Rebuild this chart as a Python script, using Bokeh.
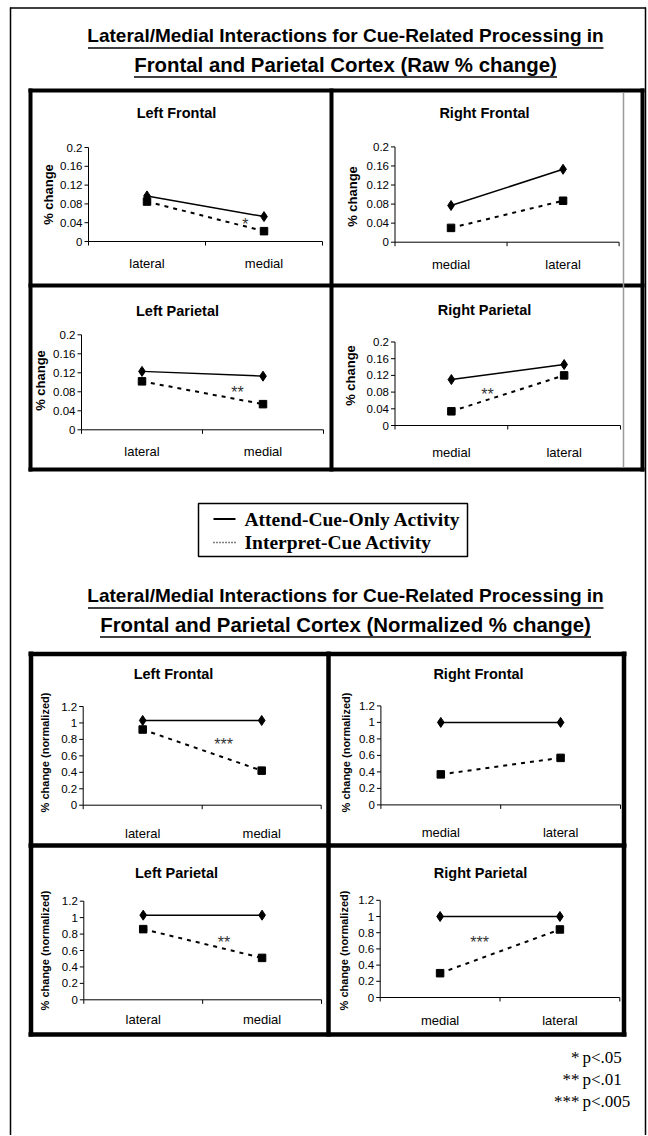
import numpy as np
from bokeh.plotting import figure
from bokeh.models import Range1d
from bokeh.core.properties import value
from bokeh.embed import file_html
from bokeh.resources import INLINE

# ---------------- data ----------------
titles_raw = ["Lateral/Medial Interactions for Cue-Related Processing in",
              "Frontal and Parietal Cortex (Raw % change)"]
titles_norm = ["Lateral/Medial Interactions for Cue-Related Processing in",
               "Frontal and Parietal Cortex (Normalized % change)"]
regions = ["Left Frontal", "Right Frontal", "Left Parietal", "Right Parietal"]
cats_left = ["lateral", "medial"]
cats_right = ["medial", "lateral"]
series_names = ["Attend-Cue-Only Activity", "Interpret-Cue Activity"]

raw_attend_LF = [0.097, 0.053]
raw_interp_LF = [0.085, 0.022]
raw_attend_RF = [0.077, 0.153]
raw_interp_RF = [0.030, 0.087]
raw_attend_LP = [0.123, 0.113]
raw_interp_LP = [0.102, 0.054]
raw_attend_RP = [0.110, 0.146]
raw_interp_RP = [0.034, 0.120]

norm_attend_LF = [1.03, 1.03]
norm_interp_LF = [0.92, 0.42]
norm_attend_RF = [1.00, 1.00]
norm_interp_RF = [0.37, 0.57]
norm_attend_LP = [1.03, 1.03]
norm_interp_LP = [0.86, 0.51]
norm_attend_RP = [1.00, 1.00]
norm_interp_RP = [0.30, 0.84]

raw_ticks = [0, 0.04, 0.08, 0.12, 0.16, 0.2]
raw_tick_labels = ["0", "0.04", "0.08", "0.12", "0.16", "0.2"]
norm_ticks = [0, 0.2, 0.4, 0.6, 0.8, 1.0, 1.2]
norm_tick_labels = ["0", "0.2", "0.4", "0.6", "0.8", "1", "1.2"]

raw_ylabel = "% change"
norm_ylabel = "% change (normalized)"

# significance marks (text, x in category units, y in data units)
sig_raw_LF = ("*", 1.34, 0.045)
sig_raw_LP = ("**", 1.29, 0.087)
sig_raw_RP = ("**", 0.82, 0.084)
sig_norm_LF = ("***", 1.18, 0.79)
sig_norm_LP = ("**", 1.18, 0.75)
sig_norm_RP = ("***", 0.83, 0.73)

pvalue_stars = ["*", "**", "***"]
pvalue_texts = ["p<.05", "p<.01", "p<.005"]

# ---------------- canvas ----------------
W, H = 647, 1135
p = figure(width=W, height=H, x_range=Range1d(start=0, end=W), y_range=Range1d(start=0, end=H),
           output_backend="svg", toolbar_location=None, min_border=0,
           x_axis_location=None, y_axis_location=None)
p.grid.visible = False
p.outline_line_color = None
p.background_fill_color = "white"
p.border_fill_color = "white"


def px(x):
    return x


def py(y):
    return H - y


SANS = value("Liberation Sans")
SERIF = value("Liberation Serif")


def hline(x0, x1, y, w, color="black"):
    p.segment(x0=[px(x0)], y0=[py(y)], x1=[px(x1)], y1=[py(y)], line_color=color, line_width=w)


def vline(x, y0, y1, w, color="black"):
    p.segment(x0=[px(x)], y0=[py(y0)], x1=[px(x)], y1=[py(y1)], line_color=color, line_width=w)


# outer border (bottom edge lies below the window)
hline(9.5, 645.5, 7.5, 1.5)
vline(10, 7, 1140, 1.5)
vline(645, 7, 1140, 1.5)

# titles with underlines
def title_block(lines, ys, sizes, spans):
    for t, y, s, (a, b) in zip(lines, ys, sizes, spans):
        p.text(x=[px(345)], y=[py(y)], text=[t], text_align="center", text_baseline="middle",
               text_font=SANS, text_font_style="bold", text_font_size=s, text_color="black")
        hline(a, b, y + 12.5, 1.6)

title_block(titles_raw, [35, 64], ["19px", "20.4px"], [(87.5, 603), (133.5, 556.5)])
title_block(titles_norm, [595, 624], ["19px", "20.4px"], [(87.5, 603), (99.5, 590.5)])

# top grid frame
for y in (90, 285, 469):
    hline(28, 644, y, 4)
for x in (30, 331, 642):
    vline(x, 88, 471, 4)
vline(623, 92, 467, 1.5, "#9a9a9a")

# bottom grid frame
for y in (653.5, 845, 1034):
    hline(28, 626, y, 4.5)
for x in (30.5, 328, 623.5):
    vline(x, 651, 1036, 4.5)


def panel(frame, ymax, ticks, tick_labels, cats, attend, interp, sig, title, title_xy,
          ylabel, ylabel_xy, ylabel_size, cat_off):
    x0, x1, ytop, ybot = frame
    n = len(cats)
    sub = p.subplot(x_source=Range1d(start=0, end=n), y_source=Range1d(start=0, end=ymax),
                    x_target=Range1d(start=px(x0), end=px(x1)),
                    y_target=Range1d(start=py(ybot), end=py(ytop)))
    ux = n / (x1 - x0)
    uy = ymax / (ybot - ytop)
    # axes
    sub.segment(x0=[0], y0=[0], x1=[n], y1=[0], line_color="black", line_width=1)
    sub.segment(x0=[0], y0=[0], x1=[0], y1=[ymax], line_color="black", line_width=1)
    nt = len(ticks)
    sub.segment(x0=[-4 * ux] * nt, y0=ticks, x1=[0] * nt, y1=ticks, line_color="black", line_width=1)
    bx = list(range(n + 1))
    sub.segment(x0=bx, y0=[0] * (n + 1), x1=bx, y1=[-4 * uy] * (n + 1), line_color="black", line_width=1)
    sub.text(x=[0] * nt, y=ticks, text=tick_labels, x_offset=-6, text_align="right",
             text_baseline="middle", text_font=SANS, text_font_size="11.5px", text_color="black")
    xc = [i + 0.5 for i in range(n)]
    sub.text(x=xc, y=[0] * n, text=cats, y_offset=cat_off, text_align="center",
             text_baseline="middle", text_font=SANS, text_font_size="13px", text_color="black")
    # series
    sub.line(x=xc, y=attend, line_color="black", line_width=1.5)
    sub.scatter(x=xc, y=attend, marker="diamond", size=10, fill_color="black", line_color="black")
    sub.line(x=xc, y=interp, line_color="black", line_width=2, line_dash="4 5")
    sub.scatter(x=xc, y=interp, marker="square", size=7.5, fill_color="black", line_color="black")
    if sig is not None:
        sub.text(x=[sig[1]], y=[sig[2]], text=[sig[0]], y_offset=4, text_align="center",
                 text_baseline="middle", text_font=SANS, text_font_size="16px", text_color="#333333")
    # title & y label
    p.text(x=[px(title_xy[0])], y=[py(title_xy[1])], text=[title], text_align="center",
           text_baseline="middle", text_font=SANS, text_font_style="bold", text_font_size="14.5px",
           text_color="black")
    p.text(x=[px(ylabel_xy[0])], y=[py(ylabel_xy[1])], text=[ylabel], angle=np.pi / 2,
           text_align="center", text_baseline="middle", text_font=SANS, text_font_style="bold",
           text_font_size=ylabel_size, text_color="black")


# raw panels
panel((88, 322, 147, 241), 0.2, raw_ticks, raw_tick_labels, cats_left, raw_attend_LF, raw_interp_LF,
      sig_raw_LF, regions[0], (176, 112), raw_ylabel, (48, 194), "13px", 22)
panel((394.5, 618.6, 146.4, 241.7), 0.2, raw_ticks, raw_tick_labels, cats_right, raw_attend_RF,
      raw_interp_RF, None, regions[1], (484, 112), raw_ylabel, (352, 196), "13px", 22)
panel((81, 323, 334.3, 429.3), 0.2, raw_ticks, raw_tick_labels, cats_left, raw_attend_LP,
      raw_interp_LP, sig_raw_LP, regions[2], (177, 310), raw_ylabel, (40, 380), "13px", 22)
panel((394.5, 620, 341.5, 425), 0.2, raw_ticks, raw_tick_labels, cats_right, raw_attend_RP,
      raw_interp_RP, sig_raw_RP, regions[3], (484, 309), raw_ylabel, (350, 375), "13px", 27)

# normalized panels
panel((82.7, 320.7, 706, 804.7), 1.2, norm_ticks, norm_tick_labels, cats_left, norm_attend_LF,
      norm_interp_LF, sig_norm_LF, regions[0], (173, 673), norm_ylabel, (44, 752), "11px", 28)
panel((380.4, 620, 705.4, 804.4), 1.2, norm_ticks, norm_tick_labels, cats_right, norm_attend_RF,
      norm_interp_RF, None, regions[1], (478, 673), norm_ylabel, (345, 752), "11px", 28)
panel((83.3, 321, 900.7, 999.3), 1.2, norm_ticks, norm_tick_labels, cats_left, norm_attend_LP,
      norm_interp_LP, sig_norm_LP, regions[2], (176, 872), norm_ylabel, (44, 950), "11px", 20)
panel((379.7, 619.3, 899.8, 997), 1.2, norm_ticks, norm_tick_labels, cats_right, norm_attend_RP,
      norm_interp_RP, sig_norm_RP, regions[3], (480, 872), norm_ylabel, (343.5, 950), "11px", 23)

# legend
p.quad(left=[px(198)], right=[px(467)], top=[py(503)], bottom=[py(556)],
       fill_color="white", line_color="black", line_width=1.5)
p.segment(x0=[px(213)], y0=[py(518.5)], x1=[px(235)], y1=[py(518.5)], line_color="black", line_width=2)
p.segment(x0=[px(213)], y0=[py(542)], x1=[px(235)], y1=[py(542)], line_color="black", line_width=1.5,
          line_dash="1 2")
p.text(x=[px(244), px(244)], y=[py(518.5), py(542)], text=series_names, text_align="left",
       text_baseline="middle", text_font=SERIF, text_font_style="bold", text_font_size="19.5px",
       text_color="black")

# p-value key
pv_y = [py(1057), py(1079), py(1101)]
p.text(x=[px(579)] * 3, y=pv_y, text=pvalue_stars, text_align="right", text_baseline="middle",
       text_font=SERIF, text_font_size="17px", text_color="black")
p.text(x=[px(582)] * 3, y=pv_y, text=pvalue_texts, text_align="left", text_baseline="middle",
       text_font=SERIF, text_font_size="17px", text_color="black")

open("out.html", "w").write(file_html(p, INLINE))
